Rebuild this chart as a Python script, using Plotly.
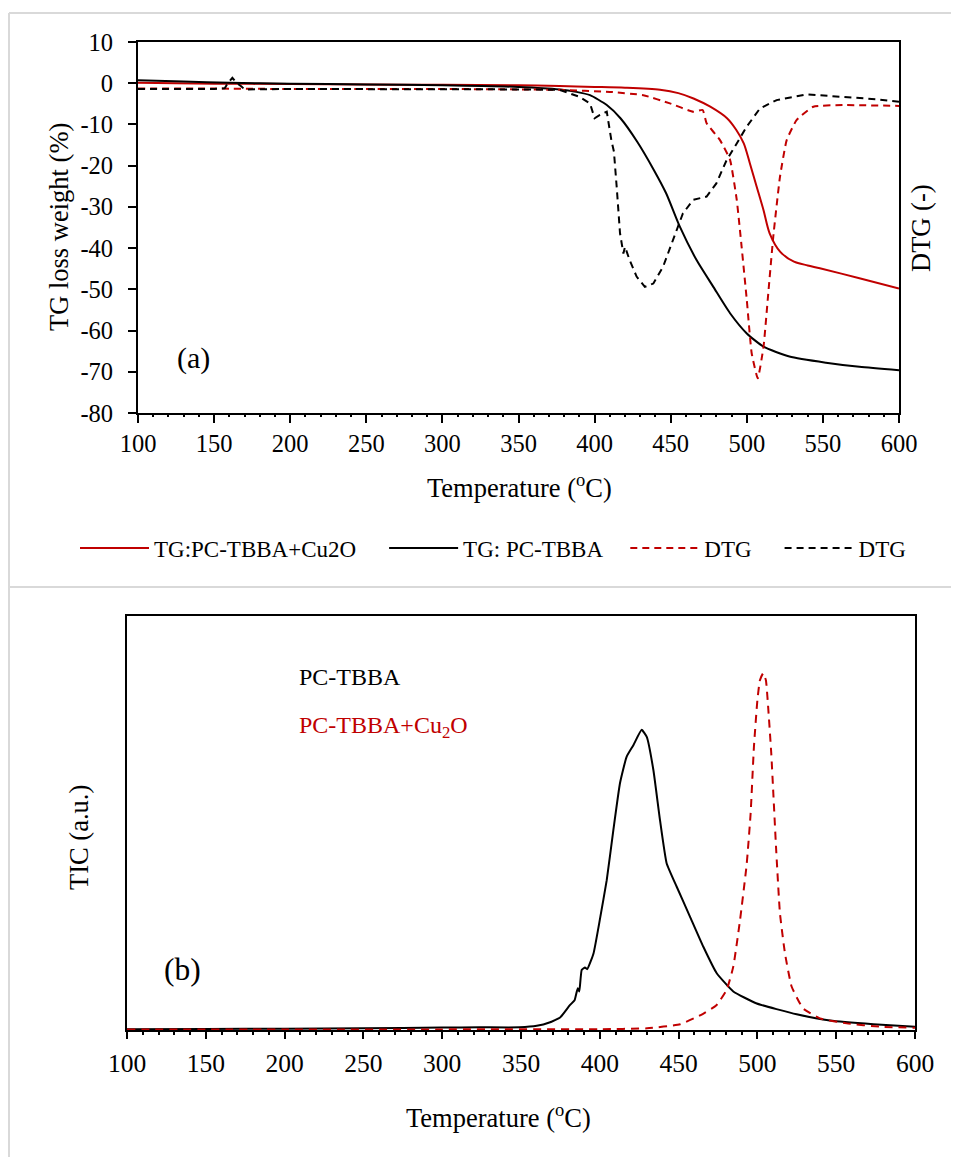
import plotly.graph_objects as go

W, H = 959, 1157
FONT = "Liberation Serif"
RED = "#C00000"
OX, OY = 8, 8  # page body margin of the html page

# ---------------- data (a) TG / DTG ----------------
tg_cu_T = [100, 150, 200, 250, 300, 350, 377, 400, 420, 443, 455, 465, 476, 487, 493, 498, 502, 506.5, 511, 515, 522, 531, 540, 548, 574, 600]
tg_cu_v = [0.1, -0.1, -0.2, -0.3, -0.4, -0.5, -0.7, -0.9, -1.1, -1.6, -2.4, -3.7, -5.7, -8.5, -11.3, -14.6, -19.4, -25.1, -30.8, -36.4, -40.9, -43.3, -44.2, -44.9, -47.3, -49.8]

tg_pc_T = [100, 130, 160, 200, 250, 300, 350, 377, 388, 397, 408, 417, 428, 439, 447, 456, 467, 478, 489, 500, 511, 528, 552, 574, 600]
tg_pc_v = [0.7, 0.4, 0.1, -0.1, -0.3, -0.5, -0.9, -1.5, -2.1, -2.9, -5.3, -8.5, -14.2, -21.1, -26.7, -34.8, -42.9, -49.4, -55.8, -60.7, -63.9, -66.3, -67.8, -68.8, -69.6]

dtg_cu_T = [100, 150, 200, 250, 300, 350, 377, 410, 432, 449.5, 464.8, 471, 473.6, 482.4, 489, 493.4, 496.6, 500, 503.2, 507.2, 511, 514.1, 517.4, 521.8, 526.2, 532.8, 543.7, 563.4, 600]
dtg_cu_v = [-1.3, -1.3, -1.4, -1.4, -1.4, -1.5, -1.6, -2.1, -2.9, -4.9, -6.9, -6.5, -9.7, -13.8, -18.6, -28.3, -39.7, -52.6, -65.5, -71.6, -63.9, -51.0, -37.2, -22.7, -13.8, -8.9, -5.7, -5.3, -5.5]

dtg_pc_T = [100, 150, 157, 159, 162, 165, 168, 170, 200, 250, 300, 350, 377, 390, 397, 400, 403.5, 408, 411, 412.7, 414.5, 416.7, 418.9, 420, 423, 427.6, 433, 438.6, 445, 451.7, 458, 464.8, 473.6, 480, 486.8, 493.4, 500, 508.7, 519.6, 539.3, 563.4, 585.3, 600]
dtg_pc_v = [-1.4, -1.4, -1.2, 0.0, 1.3, 0.0, -0.8, -1.5, -1.4, -1.4, -1.4, -1.5, -1.6, -3.3, -4.9, -8.5, -7.7, -6.9, -13.8, -16.6, -25.1, -36.4, -41.3, -39.7, -42.9, -46.9, -49.4, -48.6, -44.5, -38.0, -31.6, -28.3, -27.5, -24.3, -18.6, -14.6, -10.5, -6.1, -4.1, -2.7, -3.3, -3.9, -4.5]

# ---------------- data (b) TIC ----------------
tic_pc_T = [100, 150, 200, 250, 300, 324, 349, 360, 368, 375, 381, 384, 386, 387, 388.5, 390.6, 392, 396, 400, 404.4, 408.6, 412.8, 417, 421.3, 426.6, 429.8, 434, 438.2, 442.4, 448.8, 457.2, 465.7, 474.2, 484.7, 499.6, 524.9, 546, 573.6, 600]
tic_pc_v = [0.2, 0.25, 0.3, 0.4, 0.6, 0.65, 0.65, 1.0, 1.8, 3.1, 6.0, 7.2, 10.1, 9.3, 14.5, 15.1, 14.7, 18.5, 26.6, 36.2, 48.3, 59.6, 66.0, 68.8, 72.5, 70.8, 62.8, 50.7, 40.3, 34.6, 27.4, 20.1, 13.7, 9.3, 6.4, 3.8, 2.3, 1.4, 0.8]

tic_cu_T = [100, 200, 300, 400, 430, 451, 464, 474, 480.5, 484.7, 489, 493.2, 495.7, 497.8, 500, 501.6, 503.7, 505.4, 507.1, 508.8, 510.1, 511.8, 514.3, 517.5, 521.7, 529, 539.7, 556.7, 577.8, 600]
tic_cu_v = [0.1, 0.1, 0.15, 0.2, 0.4, 1.4, 3.6, 6.0, 9.7, 15.3, 26.6, 40.0, 52.3, 68.4, 79.7, 84.5, 86.2, 84.5, 76.5, 66.8, 57.2, 44.3, 28.2, 18.5, 10.5, 5.2, 2.8, 1.6, 0.8, 0.55]

x_ticks = [100, 150, 200, 250, 300, 350, 400, 450, 500, 550, 600]
tg_ticks = [-80, -70, -60, -50, -40, -30, -20, -10, 0, 10]
tg_ticktext = [str(v) for v in tg_ticks]

legend_names = ["TG:PC-TBBA+Cu2O", "TG: PC-TBBA", "DTG", "DTG"]
NB = "\u00a0"
legend_pad = [4, 3, 4, 0]


def px(x):
    return (x - OX) / W


def py(y):
    return 1 - (y - OY) / H


fig = go.Figure()
fig.add_trace(go.Scatter(x=tg_cu_T, y=tg_cu_v, mode="lines", name=legend_names[0] + NB * legend_pad[0],
                         line=dict(color=RED, width=2, shape="spline", smoothing=0.8), xaxis="x", yaxis="y"))
fig.add_trace(go.Scatter(x=tg_pc_T, y=tg_pc_v, mode="lines", name=legend_names[1] + NB * legend_pad[1],
                         line=dict(color="black", width=2, shape="spline", smoothing=0.6), xaxis="x", yaxis="y"))
fig.add_trace(go.Scatter(x=dtg_cu_T, y=dtg_cu_v, mode="lines", name=legend_names[2] + NB * legend_pad[2],
                         line=dict(color=RED, width=2, dash="7px,5px", shape="spline", smoothing=0.4), xaxis="x", yaxis="y2"))
fig.add_trace(go.Scatter(x=dtg_pc_T, y=dtg_pc_v, mode="lines", name=legend_names[3] + NB * legend_pad[3],
                         line=dict(color="black", width=2, dash="7px,5px"), xaxis="x", yaxis="y2"))

fig.add_trace(go.Scatter(x=tic_pc_T, y=tic_pc_v, mode="lines", showlegend=False,
                         line=dict(color="black", width=2, shape="spline", smoothing=0.4), xaxis="x2", yaxis="y3"))
fig.add_trace(go.Scatter(x=tic_cu_T, y=tic_cu_v, mode="lines", showlegend=False,
                         line=dict(color=RED, width=2, dash="8px,6px", shape="spline", smoothing=0.4), xaxis="x2", yaxis="y3"))

top_x = [px(138), px(899)]
top_y = [py(413), py(42)]
bot_x = [px(127), px(915)]
bot_y = [py(1030), py(616)]

tickfont_a = dict(family=FONT, size=24.5, color="black")
tickfont_b = dict(family=FONT, size=25.5, color="black")
titlefont = dict(family=FONT, size=26.5, color="black")
common_x = dict(range=[100, 600], tickvals=x_ticks, showgrid=False, zeroline=False, automargin=False)

fig.update_layout(
    template="none",
    width=W, height=H, autosize=False, margin=dict(l=0, r=0, t=0, b=0, pad=0, autoexpand=False),
    paper_bgcolor="white", plot_bgcolor="white",
    font=dict(family=FONT, size=24, color="black"),
    xaxis=dict(domain=top_x, anchor="y", **common_x, showline=True, linecolor="black", linewidth=2,
               mirror=True, ticks="outside", ticklen=8, tickwidth=1.5, tickcolor="black",
               tickfont=tickfont_a, ticklabelstandoff=0,
               minor=dict(dtick=10, ticks="outside", ticklen=2, tickwidth=1.5, tickcolor="black")),
    xaxis3=dict(overlaying="x", anchor="y", **common_x, showline=False, showticklabels=False,
                ticks="inside", ticklen=7, tickwidth=1.5, tickcolor="black",
                minor=dict(dtick=10, ticks="inside", ticklen=6, tickwidth=1.5, tickcolor="black")),
    yaxis=dict(domain=top_y, anchor="x", range=[-80, 10], tickvals=tg_ticks, ticktext=tg_ticktext,
               showgrid=False, zeroline=False, showline=True, linecolor="black", linewidth=2,
               ticks="outside", ticklen=8, tickwidth=1.5, tickcolor="black", tickfont=tickfont_a,
               ticklabelstandoff=10, automargin=False),
    yaxis2=dict(overlaying="y", side="right", anchor="x", range=[-80, 10], showticklabels=False,
                ticks="", showgrid=False, zeroline=False, showline=True, linecolor="black", linewidth=2,
                automargin=False),
    xaxis2=dict(domain=bot_x, anchor="y3", **common_x, showline=True, linecolor="black", linewidth=2,
                mirror=True, ticks="outside", ticklen=7, tickwidth=1.5, tickcolor="black",
                tickfont=tickfont_b, ticklabelstandoff=2,
                minor=dict(dtick=10, ticks="outside", ticklen=3, tickwidth=1.5, tickcolor="black")),
    xaxis4=dict(overlaying="x2", anchor="y3", **common_x, showline=False, showticklabels=False,
                ticks="inside", ticklen=5, tickwidth=1.5, tickcolor="black",
                minor=dict(dtick=10, ticks="inside", ticklen=5, tickwidth=1.5, tickcolor="black")),
    yaxis3=dict(domain=bot_y, anchor="x2", range=[0, 100], showticklabels=False, ticks="",
                showgrid=False, zeroline=False, showline=True, linecolor="black", linewidth=2, mirror=True,
                automargin=False),
    legend=dict(orientation="h", x=px(75), xanchor="left", y=py(548), yanchor="middle",
                font=dict(family=FONT, size=23, color="black"), itemwidth=69,
                bgcolor="rgba(0,0,0,0)", traceorder="normal", borderwidth=0),
    showlegend=True,
)

ann = [
    dict(text="Temperature (<sup>o</sup>C)", x=px(519), y=py(486)),
    dict(text="TG loss weight (%)", x=px(59), y=py(227), textangle=-90),
    dict(text="DTG (-)", x=px(921), y=py(228), textangle=-90),
    dict(text="(a)", x=px(193), y=py(358), font=dict(family=FONT, size=30, color="black")),
    dict(text="PC-TBBA", x=px(297), y=py(677), xanchor="left", font=dict(family=FONT, size=24, color="black")),
    dict(text="PC-TBBA+Cu<sub>2</sub>O", x=px(297), y=py(727), xanchor="left",
         font=dict(family=FONT, size=24, color=RED)),
    dict(text="(b)", x=px(182), y=py(969), font=dict(family=FONT, size=31.5, color="black")),
    dict(text="TIC (a.u.)", x=px(79), y=py(838), textangle=-90),
    dict(text="Temperature (<sup>o</sup>C)", x=px(498), y=py(1116)),
]
for a in ann:
    a.setdefault("xanchor", "center")
    a.setdefault("yanchor", "middle")
    a.setdefault("font", titlefont)
    fig.add_annotation(xref="paper", yref="paper", showarrow=False, **a)

# light grey panel frame lines
grey = dict(color="#d9d9d9", width=2)
fig.add_shape(type="line", xref="paper", yref="paper", x0=px(9), x1=1, y0=py(13), y1=py(13), line=grey)
fig.add_shape(type="line", xref="paper", yref="paper", x0=px(9), x1=1, y0=py(587), y1=py(587), line=grey)
fig.add_shape(type="line", xref="paper", yref="paper", x0=px(9), x1=px(9), y0=py(13), y1=0, line=grey)

fig.write_html("out.html")
